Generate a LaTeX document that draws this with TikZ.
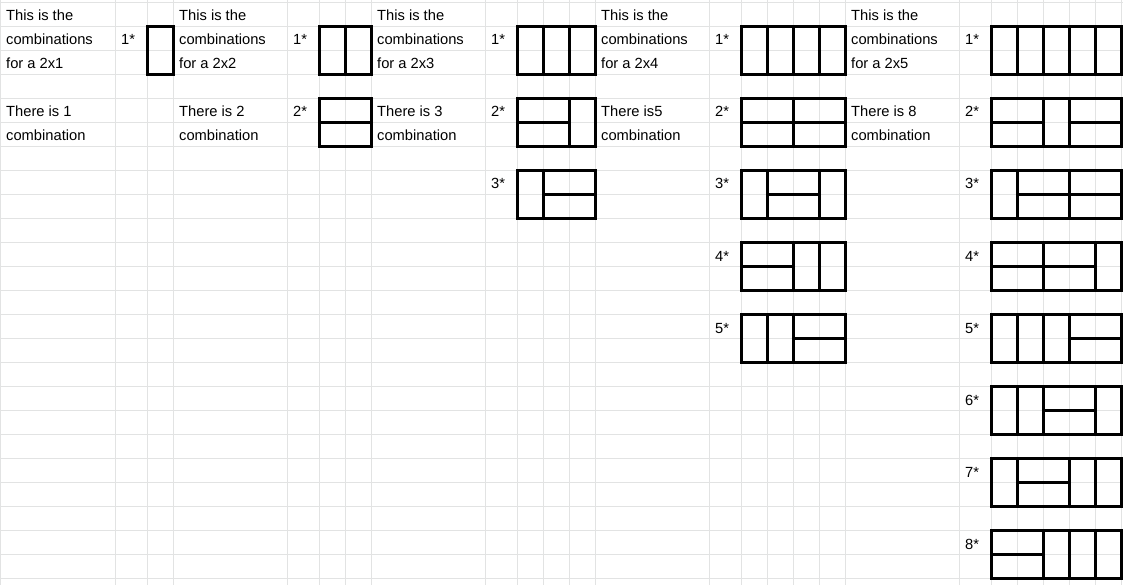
\documentclass[tikz,border=0pt]{standalone}
\usepackage{fontspec}
\setmainfont{Liberation Sans}
\definecolor{sheetgrid}{RGB}{226,227,227}
\tikzset{
	cell/.style={sheetgrid, line width=1pt},
	tile/.style={line width=3pt},
	txt/.style={anchor=base west, inner sep=0pt, font=\fontsize{14.7}{17}\selectfont},
}
\begin{document}
\begin{tikzpicture}[x=1pt,y=-1pt]
	\useasboundingbox (0,0) rectangle (1123,585);
	% spreadsheet cells
	\foreach \r in {0,...,24}
		\draw[cell] (0,{2.5+24*\r})--(1123,{2.5+24*\r});
	\foreach \c in {0.5,115.5,147.5,173.5,287.5,319.5,345.5,371.5,485.5,517.5,543.5,569.5,595.5,709.5,741.5,767.5,793.5,819.5,845.5,959.5,991.5,1017.5,1043.5,1069.5,1095.5,1121.5}
		\draw[cell] (\c,0)--(\c,585);
	% texts
	\foreach \x/\n/\cnt [count=\i] in {6/1/There is 1,179/2/There is 2,377/3/There is 3,601/4/There is5,851/5/There is 8} {
		\node[txt] (intro\i) at (\x,21) {This is the};
		\node[txt] (comb\i) at (\x,45) {combinations};
		\node[txt] (size\i) at (\x,69) {for a 2x\n};
		\node[txt] (count\i) at (\x,117) {\cnt};
		\node[txt] (word\i) at (\x,141) {combination};
	}
	\foreach \x/\n in {121/1,293/2,491/3,715/5,965/8}
		\foreach \k in {1,...,\n}
			\node[txt] (lab\x-\k) at (\x,{45+72*(\k-1)}) {\k*};
	% 2x1
	\draw[tile] (147.5,26.5) rectangle (173.5,74.5);
	% 2x2
	\draw[tile] (319.5,26.5) rectangle (371.5,74.5) (345.5,26.5)--(345.5,74.5);
	\draw[tile] (319.5,98.5) rectangle (371.5,146.5) (319.5,122.5)--(371.5,122.5);
	% 2x3
	\draw[tile] (517.5,26.5) rectangle (595.5,74.5) (543.5,26.5)--(543.5,74.5) (569.5,26.5)--(569.5,74.5);
	\draw[tile] (517.5,98.5) rectangle (595.5,146.5) (517.5,122.5)--(569.5,122.5) (569.5,98.5)--(569.5,146.5);
	\draw[tile] (517.5,170.5) rectangle (595.5,218.5) (543.5,170.5)--(543.5,218.5) (543.5,194.5)--(595.5,194.5);
	% 2x4
	\draw[tile] (741.5,26.5) rectangle (845.5,74.5) (767.5,26.5)--(767.5,74.5) (793.5,26.5)--(793.5,74.5) (819.5,26.5)--(819.5,74.5);
	\draw[tile] (741.5,98.5) rectangle (845.5,146.5) (793.5,98.5)--(793.5,146.5) (741.5,122.5)--(845.5,122.5);
	\draw[tile] (741.5,170.5) rectangle (845.5,218.5) (767.5,170.5)--(767.5,218.5) (819.5,170.5)--(819.5,218.5) (767.5,194.5)--(819.5,194.5);
	\draw[tile] (741.5,242.5) rectangle (845.5,290.5) (741.5,266.5)--(793.5,266.5) (793.5,242.5)--(793.5,290.5) (819.5,242.5)--(819.5,290.5);
	\draw[tile] (741.5,314.5) rectangle (845.5,362.5) (767.5,314.5)--(767.5,362.5) (793.5,314.5)--(793.5,362.5) (793.5,338.5)--(845.5,338.5);
	% 2x5
	\draw[tile] (991.5,26.5) rectangle (1121.5,74.5) (1017.5,26.5)--(1017.5,74.5) (1043.5,26.5)--(1043.5,74.5) (1069.5,26.5)--(1069.5,74.5) (1095.5,26.5)--(1095.5,74.5);
	\draw[tile] (991.5,98.5) rectangle (1121.5,146.5) (991.5,122.5)--(1043.5,122.5) (1043.5,98.5)--(1043.5,146.5) (1069.5,98.5)--(1069.5,146.5) (1069.5,122.5)--(1121.5,122.5);
	\draw[tile] (991.5,170.5) rectangle (1121.5,218.5) (1017.5,170.5)--(1017.5,218.5) (1017.5,194.5)--(1121.5,194.5) (1069.5,170.5)--(1069.5,218.5);
	\draw[tile] (991.5,242.5) rectangle (1121.5,290.5) (991.5,266.5)--(1095.5,266.5) (1043.5,242.5)--(1043.5,290.5) (1095.5,242.5)--(1095.5,290.5);
	\draw[tile] (991.5,314.5) rectangle (1121.5,362.5) (1017.5,314.5)--(1017.5,362.5) (1043.5,314.5)--(1043.5,362.5) (1069.5,314.5)--(1069.5,362.5) (1069.5,338.5)--(1121.5,338.5);
	\draw[tile] (991.5,386.5) rectangle (1121.5,434.5) (1017.5,386.5)--(1017.5,434.5) (1043.5,386.5)--(1043.5,434.5) (1043.5,410.5)--(1095.5,410.5) (1095.5,386.5)--(1095.5,434.5);
	\draw[tile] (991.5,458.5) rectangle (1121.5,506.5) (1017.5,458.5)--(1017.5,506.5) (1017.5,482.5)--(1069.5,482.5) (1069.5,458.5)--(1069.5,506.5) (1095.5,458.5)--(1095.5,506.5);
	\draw[tile] (991.5,530.5) rectangle (1121.5,578.5) (991.5,554.5)--(1043.5,554.5) (1043.5,530.5)--(1043.5,578.5) (1069.5,530.5)--(1069.5,578.5) (1095.5,530.5)--(1095.5,578.5);
\end{tikzpicture}
\end{document}
